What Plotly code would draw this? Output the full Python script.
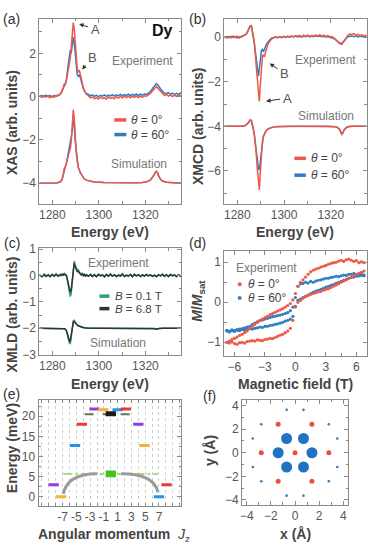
import plotly.graph_objects as go

W, H = 368, 548
def px(x): return x / W
def py(y): return 1 - y / H

FONT = "Liberation Sans, Arial, sans-serif"
RED = "#ef5747"
BLUE = "#2f7dc0"
GREEN = "#2fa07c"
BLACK = "#333333"
AX = "#8a8a8a"
TICK = "#555555"
TITLE = "#444444"
NOTE = "#777777"

# ---------------- data ----------------
E_EXP = [1274.4, 1275.6, 1276.5, 1277.3, 1278.2, 1279.0, 1279.9, 1280.8, 1281.6, 1282.5, 1283.4,
         1283.8, 1284.2, 1284.7, 1285.1, 1285.5, 1286.0, 1286.4, 1286.8, 1287.3, 1287.7, 1288.1, 1288.5,
         1289.0, 1289.4, 1289.8, 1290.3, 1290.7, 1291.1, 1291.6, 1292.0, 1292.4, 1292.9, 1293.3, 1293.7,
         1294.2, 1294.6,
         1295.5, 1296.4, 1297.2, 1298.1, 1298.9, 1299.8, 1300.7, 1301.5, 1302.4, 1303.2,
         1304.1, 1305.0, 1305.8, 1306.7, 1307.5, 1308.4, 1309.3, 1310.1, 1311.0, 1311.8,
         1312.7, 1313.6, 1314.4, 1315.3, 1316.1, 1317.0, 1317.9, 1318.7, 1319.6, 1320.4,
         1321.3, 1322.2, 1323.0, 1323.9, 1324.7, 1325.6, 1326.5, 1327.3, 1328.2, 1329.0,
         1329.9, 1330.8, 1331.6, 1332.5, 1333.3, 1334.2, 1335.1, 1335.9]

E_SIM = [1274.4, 1277.3, 1279.9, 1281.6, 1283.4, 1284.2, 1284.7, 1285.1, 1285.5, 1286.0, 1286.4,
         1286.8, 1287.3, 1287.7, 1288.1, 1288.5, 1289.0, 1289.4, 1289.8, 1290.3, 1290.7, 1291.1,
         1292.0, 1292.9, 1293.7, 1294.6, 1296.3, 1298.0, 1302.3, 1306.6, 1311.0, 1315.3, 1318.7,
         1320.5, 1322.2, 1323.0, 1323.9, 1324.3, 1324.7, 1325.2, 1325.6, 1326.5, 1327.3, 1329.1,
         1332.5, 1335.4]

XAS_EXP_0 = [0.03, -0.04, 0.05, -0.02, 0.04, -0.05, 0.02, -0.03, 0.06, 0.04, 0.10,
             0.18, 0.30, 0.42, 0.60, 0.52, 0.72, 0.95, 1.20, 1.45, 1.75, 2.25, 2.90, 3.42, 3.15, 2.45,
             1.75, 1.30, 1.12, 1.22, 1.05, 0.80, 0.58, 0.42, 0.30, 0.20, 0.12,
             0.04, -0.06, -0.02, -0.10, -0.04, -0.11, -0.03, -0.09, -0.05, -0.12, -0.02, -0.08, -0.04,
             -0.10, -0.01, -0.07, 0.02, -0.06, 0.03, -0.05, 0.02, -0.06, 0.01, -0.04, 0.03, -0.05, 0.02,
             -0.03, 0.04, 0.02, 0.08, 0.14, 0.26, 0.38, 0.46, 0.36, 0.24, 0.12, 0.05, 0.10, 0.02, 0.08,
             0.00, 0.07, 0.01, 0.08, 0.03, 0.06]
XAS_EXP_60 = [0.02, 0.05, -0.01, 0.06, 0.00, 0.05, -0.02, 0.06, 0.01, 0.07, 0.09,
              0.15, 0.26, 0.38, 0.52, 0.58, 0.78, 1.08, 1.50, 1.95, 2.15, 2.00, 2.40, 2.75, 2.50, 1.90,
              1.35, 1.02, 0.95, 1.00, 0.88, 0.68, 0.50, 0.38, 0.28, 0.20, 0.14,
              0.10, 0.03, 0.08, 0.01, 0.07, 0.00, 0.06, 0.02, 0.08, 0.01, 0.07, 0.03, 0.09, 0.02, 0.08,
              0.04, 0.10, 0.03, 0.09, 0.05, 0.11, 0.04, 0.10, 0.06, 0.12, 0.05, 0.11, 0.07, 0.12, 0.10,
              0.16, 0.24, 0.36, 0.50, 0.60, 0.50, 0.36, 0.24, 0.16, 0.14, 0.18, 0.10, 0.16, 0.09, 0.15,
              0.10, 0.16, 0.11]
XAS_SIM_0 = [-4.0, -4.0, -4.0, -3.99, -3.95, -3.82, -3.6, -3.32, -3.27, -3.12, -2.95, -2.75, -2.58,
             -2.42, -2.1, -1.35, -0.6, -0.95, -1.9, -2.6, -3.0, -3.25, -3.52, -3.7, -3.8, -3.86, -3.92,
             -3.95, -3.97, -3.98, -3.98, -3.98, -3.97, -3.94, -3.85, -3.75, -3.6, -3.5, -3.46, -3.52,
             -3.65, -3.82, -3.9, -3.96, -3.99, -4.0]
XAS_SIM_60 = [-4.0, -4.0, -4.0, -3.99, -3.95, -3.84, -3.62, -3.36, -3.28, -3.1, -2.88, -2.62, -2.38,
              -2.18, -2.05, -1.65, -1.1, -1.25, -2.0, -2.62, -3.0, -3.25, -3.52, -3.7, -3.8, -3.86, -3.92,
              -3.95, -3.97, -3.98, -3.98, -3.98, -3.97, -3.94, -3.85, -3.74, -3.58, -3.48, -3.45, -3.5,
              -3.64, -3.82, -3.9, -3.96, -3.99, -4.0]

XMCD_EXP_0 = [0.02, -0.04, 0.03, -0.03, 0.05, -0.02, 0.04, -0.04, 0.03, 0.06, 0.12,
              0.12, 0.20, 0.30, 0.42, 0.50, 0.52, 0.35, 0.05, -0.30, -0.70, -1.20, -1.80, -2.40, -2.88,
              -2.20, -1.30, -0.90, -0.78, -0.88, -0.70, -0.52, -0.38, -0.28, -0.20, -0.13, -0.08,
              -0.04, 0.02, -0.03, 0.03, -0.01, 0.04, 0.00, 0.05, 0.01, 0.06, 0.02, 0.07, 0.03, 0.08,
              0.02, 0.09, 0.04, 0.10, 0.03, 0.08, 0.04, 0.10, 0.05, 0.11, 0.04, 0.09, 0.03, 0.07, 0.02,
              0.03, -0.03, -0.10, -0.20, -0.30, -0.32, -0.20, -0.05, 0.08, 0.14, 0.12, 0.16, 0.08, 0.13,
              0.05, 0.11, 0.04, 0.09, 0.03]
XMCD_EXP_60 = [0.00, 0.03, -0.02, 0.04, -0.01, 0.03, -0.03, 0.02, 0.00, 0.05, 0.10,
               0.15, 0.22, 0.32, 0.42, 0.50, 0.48, 0.30, 0.02, -0.30, -0.65, -1.05, -1.45, -1.75, -1.45,
               -0.90, -0.60, -0.55, -0.65, -0.55, -0.42, -0.32, -0.25, -0.18, -0.12, -0.08, -0.05,
               -0.03, 0.01, -0.02, 0.02, -0.02, 0.03, -0.01, 0.03, 0.00, 0.04, 0.01, 0.05, 0.01, 0.04,
               0.00, 0.05, 0.02, 0.06, 0.01, 0.05, 0.02, 0.06, 0.03, 0.05, 0.02, 0.04, 0.01, 0.03, 0.00,
               -0.02, -0.06, -0.12, -0.20, -0.26, -0.28, -0.18, -0.06, 0.02, 0.04, 0.05, 0.02, 0.06, 0.01,
               0.05, 0.02, 0.06, 0.03, 0.05]
XMCD_SIM_0 = [-4.0, -4.0, -4.0, -3.99, -3.96, -3.9, -3.84, -3.77, -3.71, -3.72, -3.85, -4.08, -4.38,
              -4.75, -5.25, -5.85, -6.5, -6.85, -6.1, -5.2, -4.72, -4.48, -4.26, -4.14, -4.08, -4.05,
              -4.02, -4.01, -4.0, -4.0, -4.0, -4.0, -4.0, -4.0, -4.02, -4.06, -4.16, -4.28, -4.36, -4.3,
              -4.18, -4.07, -4.02, -4.0, -4.0, -4.0]
XMCD_SIM_60 = [-4.0, -4.0, -4.0, -3.99, -3.96, -3.9, -3.84, -3.78, -3.73, -3.75, -3.9, -4.12, -4.42,
               -4.78, -5.2, -5.6, -5.88, -5.95, -5.6, -5.0, -4.65, -4.45, -4.25, -4.13, -4.08, -4.05,
               -4.02, -4.01, -4.0, -4.0, -4.0, -4.0, -4.0, -4.0, -4.02, -4.06, -4.15, -4.26, -4.33, -4.28,
               -4.17, -4.07, -4.02, -4.0, -4.0, -4.0]

XMLD_EXP_01T = [0.03, -0.05, 0.06, -0.02, 0.04, -0.06, 0.05, -0.03, 0.07, -0.01, 0.05,
                0.02, 0.06, 0.03, 0.08, 0.04, 0.02, -0.15, -0.40, -0.65, -0.80, -0.70, -0.25, 0.25, 0.55,
                0.42, 0.25, 0.20, 0.22, 0.12, 0.10, 0.05, 0.08, 0.02, 0.06, 0.00, 0.04,
                -0.03, 0.05, -0.04, 0.04, -0.05, 0.06, -0.02, 0.03, -0.06, 0.05, -0.03, 0.07, -0.02, 0.04,
                -0.05, 0.03, -0.01, 0.08, -0.04, 0.02, -0.03, 0.05, -0.05, 0.06, -0.02, 0.04, -0.04, 0.03,
                -0.03, 0.05, -0.02, 0.03, -0.04, 0.02, -0.05, 0.04, -0.02, 0.06, -0.03, 0.04, -0.04, 0.05,
                -0.02, 0.03, -0.05, 0.04, -0.03, 0.05]
XMLD_EXP_68T = [0.01, -0.03, 0.03, -0.04, 0.02, -0.03, 0.03, -0.02, 0.04, -0.03, 0.02,
                0.00, 0.04, 0.01, 0.05, 0.02, 0.00, -0.12, -0.32, -0.52, -0.63, -0.55, -0.20, 0.20, 0.46,
                0.35, 0.20, 0.15, 0.16, 0.08, 0.06, 0.02, 0.05, -0.01, 0.03, -0.02, 0.02,
                -0.02, 0.03, -0.03, 0.02, -0.04, 0.03, -0.01, 0.02, -0.04, 0.03, -0.02, 0.04, -0.03, 0.02,
                -0.03, 0.01, -0.02, 0.04, -0.03, 0.01, -0.02, 0.03, -0.04, 0.03, -0.01, 0.02, -0.03, 0.02,
                -0.02, 0.03, -0.01, 0.02, -0.03, 0.01, -0.04, 0.02, -0.01, 0.03, -0.02, 0.02, -0.03, 0.03,
                -0.01, 0.02, -0.03, 0.02, -0.02, 0.03]
XMLD_SIM_01T = [-2.0, -2.0, -2.0, -2.0, -2.0, -2.0, -2.01, -2.02, -2.04, -2.1, -2.22, -2.4, -2.56,
                -2.6, -2.35, -1.95, -1.72, -1.7, -1.78, -1.84, -1.87, -1.9, -1.94, -1.97, -1.98, -1.99,
                -2.0, -2.0, -2.0, -2.0, -2.0, -2.0, -2.0, -2.0, -2.0, -2.0, -2.02, -2.04, -2.05, -2.04,
                -2.02, -2.0, -2.0, -2.0, -2.0, -2.0]
XMLD_SIM_68T = [-2.0, -2.0, -2.0, -2.0, -2.0, -2.0, -2.01, -2.02, -2.03, -2.08, -2.18, -2.33, -2.47,
                -2.5, -2.3, -1.97, -1.77, -1.75, -1.8, -1.85, -1.88, -1.91, -1.94, -1.97, -1.98, -1.99,
                -2.0, -2.0, -2.0, -2.0, -2.0, -2.0, -2.0, -2.0, -2.0, -2.0, -2.01, -2.03, -2.04, -2.03,
                -2.01, -2.0, -2.0, -2.0, -2.0, -2.0]

H_FIELD = [-6.75, -6.5, -6.25, -6.0, -5.75, -5.5, -5.25, -5.0, -4.75, -4.5, -4.25, -4.0, -3.75, -3.5,
           -3.25, -3.0, -2.75, -2.5, -2.25, -2.0, -1.75, -1.5, -1.25, -1.0, -0.75, -0.5, -0.25,
           0.0, 0.25, 0.5, 0.75, 1.0, 1.25, 1.5, 1.75, 2.0, 2.25, 2.5, 2.75, 3.0, 3.25, 3.5, 3.75,
           4.0, 4.25, 4.5, 4.75, 5.0, 5.25, 5.5, 5.75, 6.0, 6.25, 6.5, 6.75]
M0_DOWN = [-1.0, -0.97, -0.93, -0.9, -0.87, -0.83, -0.8, -0.76, -0.72, -0.66,
           -0.6, -0.55, -0.5, -0.46, -0.42, -0.38, -0.35, -0.31, -0.28, -0.25,
           -0.22, -0.19, -0.16, -0.12, -0.08, -0.03, 0.06,
           0.22, 0.4, 0.5, 0.56, 0.63, 0.7, 0.76, 0.8, 0.83, 0.85,
           0.88, 0.9, 0.92, 0.95, 0.97, 0.99, 1.0, 1.03, 1.05, 1.02,
           1.06, 1.08, 1.05, 1.02, 1.04, 0.99, 1.01, 0.99]
M0_UP = [-1.0, -1.02, -0.99, -1.03, -1.05, -1.01, -1.0, -1.02, -0.98, -0.97,
         -0.96, -0.97, -0.94, -0.95, -0.96, -0.93, -0.92, -0.9, -0.91, -0.88,
         -0.85, -0.82, -0.8, -0.76, -0.72, -0.65, -0.45,
         -0.12, 0.0, 0.05, 0.1, 0.14, 0.17, 0.2, 0.22, 0.24, 0.26,
         0.27, 0.3, 0.32, 0.34, 0.37, 0.4, 0.43, 0.46, 0.5, 0.53,
         0.56, 0.6, 0.63, 0.66, 0.7, 0.72, 0.75, 0.78]
M60_DOWN = [-0.7, -0.72, -0.69, -0.7, -0.68, -0.67, -0.66, -0.64, -0.62, -0.6,
            -0.56, -0.52, -0.49, -0.46, -0.44, -0.42, -0.4, -0.38, -0.36, -0.35,
            -0.33, -0.32, -0.3, -0.28, -0.26, -0.21, -0.12,
            0.12, 0.4, 0.46, 0.47, 0.5, 0.48, 0.52, 0.5, 0.53, 0.55,
            0.56, 0.58, 0.6, 0.6, 0.62, 0.63, 0.65, 0.64, 0.66, 0.68,
            0.67, 0.7, 0.7, 0.72, 0.7, 0.68, 0.71, 0.68]
M60_UP = [-0.72, -0.74, -0.71, -0.73, -0.7, -0.71, -0.68, -0.7, -0.68, -0.66,
          -0.67, -0.65, -0.64, -0.62, -0.63, -0.6, -0.6, -0.58, -0.57, -0.55,
          -0.54, -0.52, -0.5, -0.47, -0.45, -0.42, -0.35,
          -0.1, 0.05, 0.08, 0.12, 0.15, 0.18, 0.22, 0.25, 0.28, 0.3,
          0.32, 0.35, 0.38, 0.4, 0.42, 0.44, 0.47, 0.5, 0.52, 0.55,
          0.57, 0.6, 0.62, 0.63, 0.65, 0.66, 0.67, 0.66]

# panel (e): crystal-field levels
ORANGE, PURPLE, LBLUE, LRED = "#f4b233", "#8e3fe0", "#2196e8", "#e83a3a"
LEVEL_JZ = [-7.2, 7.0, -8.3, 8.1, -5.2, 4.9, -4.2, 4.0, -2.35, -1.1, 1.0, 2.2]
LEVEL_E = [0.0, 0.0, 3.0, 3.0, 12.7, 12.7, 18.0, 18.0, 21.8, 21.6, 21.6, 21.8]
LEVEL_COLOR = [ORANGE, LBLUE, PURPLE, LRED, LBLUE, ORANGE, LRED, PURPLE, PURPLE, ORANGE, LBLUE, LRED]
GREEN_JZ = [0.0, 0.0]
GREEN_E = [6.1, 5.25]
GREEN_DASH = [-6.9, 6.8, 5.65]
BLACK_JZ = [0.0]
BLACK_E = [20.6]
OLIVE_DASH = [-3.8, 3.0, 20.5]
ARROW_L = [(-6.9, 0.7), (-6.3, 5.7), (-2.0, 5.7)]
ARROW_R = [(1.5, 5.7), (6.3, 5.7), (6.85, 1.1)]
JZ_LABELS = [-7, -5, -3, -1, 1, 3, 5, 7]

# panel (f): positions (Angstrom)
BIG_X = [0.7, -0.7, 1.4, -1.4, 0.7, -0.7]
BIG_Y = [1.21, 1.21, 0.0, 0.0, -1.21, -1.21]
RED_X = [0.0, 2.8, -2.8, 1.4, -1.4, 1.4, -1.4]
RED_Y = [0.0, 0.0, 0.0, 2.42, 2.42, -2.42, -2.42]
SMALL_X = [0.7, -0.7, 0.7, -0.7, 2.8, -2.8, 2.8, -2.8, 3.5, -3.5, 3.5, -3.5]
SMALL_Y = [3.64, 3.64, -3.64, -3.64, 2.42, 2.42, -2.42, -2.42, 1.21, 1.21, -1.21, -1.21]

# ---------------- figure ----------------
fig = go.Figure()

def line(x, y, color, ax, width=1.5, dash=None):
    fig.add_trace(go.Scatter(x=x, y=y, mode="lines", xaxis="x" + ax, yaxis="y" + ax,
                             line=dict(color=color, width=width, dash=dash), hoverinfo="skip"))

def dots(x, y, color, ax, size):
    fig.add_trace(go.Scatter(x=x, y=y, mode="markers", xaxis="x" + ax, yaxis="y" + ax,
                             marker=dict(color=color, size=size, line=dict(width=0)), hoverinfo="skip"))

# (a)
line(E_EXP, XAS_EXP_60, BLUE, "")
line(E_EXP, XAS_EXP_0, RED, "")
line(E_SIM, XAS_SIM_60, BLUE, "")
line(E_SIM, XAS_SIM_0, RED, "")
# (b)
line(E_EXP, XMCD_EXP_60, BLUE, "2")
line(E_EXP, XMCD_EXP_0, RED, "2")
line(E_SIM, XMCD_SIM_60, BLUE, "2")
line(E_SIM, XMCD_SIM_0, RED, "2")
# (c)
line(E_EXP, XMLD_EXP_01T, GREEN, "3")
line(E_EXP, XMLD_EXP_68T, BLACK, "3")
line(E_SIM, XMLD_SIM_01T, GREEN, "3")
line(E_SIM, XMLD_SIM_68T, BLACK, "3")
# (d)
dots(H_FIELD, M60_DOWN, BLUE, "4", 3.2)
dots(H_FIELD, M60_UP, BLUE, "4", 3.2)
dots(H_FIELD, M0_DOWN, RED, "4", 3.2)
dots(H_FIELD, M0_UP, RED, "4", 3.2)
# (e)
HW = 0.75
line([GREEN_DASH[0], -HW - 0.2], [GREEN_DASH[2]] * 2, "#9fe07f", "5", width=2, dash="dashdot")
line([HW + 0.2, GREEN_DASH[1]], [GREEN_DASH[2]] * 2, "#9fe07f", "5", width=2, dash="dashdot")
line([OLIVE_DASH[0], OLIVE_DASH[1]], [OLIVE_DASH[2]] * 2, "#6f6f58", "5", width=2, dash="dash")
for jz, e, c in zip(LEVEL_JZ, LEVEL_E, LEVEL_COLOR):
    line([jz - HW, jz + HW], [e, e], c, "5", width=3)
for jz, e in zip(GREEN_JZ, GREEN_E):
    line([jz - HW, jz + HW], [e, e], "#45c21f", "5", width=3.5)
for jz, e in zip(BLACK_JZ, BLACK_E):
    line([jz - HW, jz + HW], [e, e], "#1a1a1a", "5", width=5)
# (f)
dots(SMALL_X, SMALL_Y, BLUE, "6", 2.6)
dots(RED_X, RED_Y, "#ea4f3d", "6", 5)
dots(BIG_X, BIG_Y, "#1f73c0", "6", 11)

# ---------------- axes ----------------
def axis(dom, anchor, rng, **kw):
    d = dict(domain=dom, anchor=anchor, range=rng, showline=True, linecolor=AX, linewidth=1,
             mirror="allticks", ticks="inside", ticklen=4, tickcolor=AX, tickwidth=1,
             tickfont=dict(size=12, color=TICK, family=FONT), zeroline=False, showgrid=False,
             fixedrange=True)
    d.update(kw)
    return d

def minor(dt, t0=None):
    m = dict(ticks="inside", ticklen=2.5, tickcolor=AX, dtick=dt, showgrid=False)
    if t0 is not None:
        m["tick0"] = t0
    return m

XA = [px(37.5), px(180)]
XB = [px(223.5), px(366.5)]
YAB = [py(202.5), py(13)]
YC = [py(357), py(248)]
YD = [py(358), py(251)]
XE = [px(36.7), px(180)]
YE = [py(511.7), py(403.3)]
XF = [px(241.3), px(348)]
YF = [py(510.7), py(403.3)]

ERANGE = [1274.4, 1335.3]
ex = dict(tick0=1280, dtick=20, minor=minor(10, 1270))

layout = dict(
    width=W, height=H, margin=dict(l=0, r=0, t=0, b=0), showlegend=False,
    paper_bgcolor="white", plot_bgcolor="white", font=dict(family=FONT),
    xaxis=axis(XA, "y", ERANGE, **ex),
    yaxis=axis(YAB, "x", [-4.95, 3.6], tick0=0, dtick=2, minor=minor(1, 0)),
    xaxis2=axis(XB, "y2", ERANGE, **ex),
    yaxis2=axis(YAB, "x2", [-7.47, 0.83], tick0=0, dtick=2, minor=minor(1, 0)),
    xaxis3=axis(XA, "y3", ERANGE, **ex),
    yaxis3=axis(YC, "x3", [-3.0, 1.04], tick0=0, dtick=1, minor=minor(0.5, 0)),
    xaxis4=axis(XB, "y4", [-7, 7], tickvals=[-6, -3, 0, 3, 6], minor=minor(1.5, 0)),
    yaxis4=axis(YD, "x4", [-1.33, 1.28], tick0=0, dtick=1, minor=minor(0.5, 0)),
    xaxis5=axis(XE, "y5", [-10.5, 10.2], tickvals=list(range(-10, 11)),
                ticktext=[str(v) if v in JZ_LABELS else "" for v in range(-10, 11)],
                ticklen=3, showgrid=True, gridcolor="#cfcfcf", griddash="dot", gridwidth=1),
    yaxis5=axis(YE, "x5", [-2.2, 24.1], tick0=0, dtick=5, minor=minor(2.5, 0)),
    xaxis6=axis(XF, "y6", [-4.4, 4.4], tick0=0, dtick=2, minor=minor(1, 0)),
    yaxis6=axis(YF, "x6", [-4.4, 4.5], tick0=0, dtick=2, minor=minor(1, 0)),
)

ann = []
def txt(x, y, s, size=12, color=NOTE, xanchor="center", angle=0):
    ann.append(dict(x=px(x), y=py(y), xref="paper", yref="paper", text=s, showarrow=False,
                    font=dict(size=size, color=color, family=FONT), xanchor=xanchor,
                    yanchor="middle", textangle=angle))

# panel letters
for lab, x, y in [("(a)", 10, 13), ("(b)", 197, 13), ("(c)", 10, 243), ("(d)", 197, 243),
                  ("(e)", 10, 397), ("(f)", 209, 399)]:
    txt(x, y, lab, size=14, color="#333")

# axis titles
txt(109, 232, "<b>Energy (eV)</b>", 14, TITLE)
txt(295, 232, "<b>Energy (eV)</b>", 14, TITLE)
txt(109, 387, "<b>Energy (eV)</b>", 14, TITLE)
txt(295, 387, "<b>Magnetic field (T)</b>", 14, TITLE)
txt(113, 541.5, "<b>Angular momentum  </b><i>J</i><sub>z</sub>", 14, TITLE)
txt(295, 540.5, "<b>x (Å)</b>", 14, TITLE)
txt(10, 119, "<b>XAS (arb. units)</b>", 14, TITLE, angle=-90)
txt(197, 123, "<b>XMCD (arb. units)</b>", 14, TITLE, angle=-90)
txt(10, 316, "<b>XMLD (arb. units)</b>", 14, TITLE, angle=-90)
txt(197, 302, "<b><i>M</i>/<i>M</i><sub>sat</sub></b>", 14, TITLE, angle=-90)
txt(10, 453, "<b>Energy (meV)</b>", 14, TITLE, angle=-90)
txt(209, 455, "<b>y (Å)</b>", 14, TITLE, angle=-90)

# in-panel notes
txt(141, 56, "Experiment")
txt(137.5, 162, "Simulation")
txt(161, 25, "<b>Dy</b>", 16, "#111")
txt(325.7, 55, "Experiment")
txt(325.7, 112.7, "Simulation")
txt(116.7, 263.3, "Experiment")
txt(116.7, 345, "Simulation")
txt(266, 268.5, "Experiment")

shapes = []
def legline(x0, x1, y, color):
    shapes.append(dict(type="line", xref="paper", yref="paper", x0=px(x0), x1=px(x1),
                       y0=py(y), y1=py(y), line=dict(color=color, width=3.5)))
def legdot(x, y, color, r=2):
    shapes.append(dict(type="circle", xref="paper", yref="paper", x0=px(x - r), x1=px(x + r),
                       y0=py(y + r), y1=py(y - r), fillcolor=color, line=dict(width=0)))

legline(113, 125, 116.7, RED); txt(128, 116.7, "<i>θ</i> = 0°", 12, "#444", "left")
legline(113, 125, 131.7, BLUE); txt(128, 131.7, "<i>θ</i> = 60°", 12, "#444", "left")
legline(294, 305.5, 156, RED); txt(309, 156, "<i>θ</i> = 0°", 12, "#444", "left")
legline(294, 305.5, 173.3, BLUE); txt(309, 173.3, "<i>θ</i> = 60°", 12, "#444", "left")
legline(98, 108, 297.2, GREEN); txt(111.5, 297.2, "<i>B</i> = 0.1 T", 11.5, "#444", "left")
legline(98, 108, 310, BLACK); txt(111.5, 310, "<i>B</i> = 6.8 T", 11.5, "#444", "left")
legdot(239, 285, RED); txt(245, 285, "<i>θ</i> = 0°", 12, "#444", "left")
legdot(239, 299, BLUE); txt(245, 299, "<i>θ</i> = 60°", 12, "#444", "left")

# A / B pointers
def pointer(xr, yr, x, y, label, ax, ay):
    ann.append(dict(x=x, y=y, xref=xr, yref=yr, text=label, showarrow=True, ax=ax, ay=ay,
                    arrowhead=2, arrowsize=0.9, arrowwidth=1, arrowcolor="#333",
                    font=dict(size=13, color="#555", family=FONT), standoff=0, startstandoff=1))
pointer("x", "y", 1291.5, 3.35, "A", 16, 5)
pointer("x", "y", 1292.8, 1.25, "B", 10, -12)
pointer("x2", "y2", 1293.8, -1.18, "B", 15, 10)
pointer("x2", "y2", 1292.3, -2.87, "A", 21, -3)

# curved arrows in (e)
for (p0, pc, p1) in [ARROW_L, ARROW_R]:
    shapes.append(dict(type="path", xref="x5", yref="y5",
                       path=f"M {p0[0]},{p0[1]} Q {pc[0]},{pc[1]} {p1[0]},{p1[1]}",
                       line=dict(color="#9a9a9a", width=3)))
ann.append(dict(x=ARROW_L[2][0] + 0.6, y=ARROW_L[2][1], ax=ARROW_L[2][0] - 0.1, ay=ARROW_L[2][1],
                xref="x5", yref="y5", axref="x5", ayref="y5", text="", showarrow=True,
                arrowhead=2, arrowsize=1, arrowwidth=3, arrowcolor="#9a9a9a"))
ann.append(dict(x=ARROW_R[2][0], y=ARROW_R[2][1] - 0.6, ax=ARROW_R[2][0] - 0.02, ay=ARROW_R[2][1] + 0.2,
                xref="x5", yref="y5", axref="x5", ayref="y5", text="", showarrow=True,
                arrowhead=2, arrowsize=1, arrowwidth=3, arrowcolor="#9a9a9a"))

layout["annotations"] = ann
layout["shapes"] = shapes
fig.update_layout(**layout)
fig.write_html("out.html")
